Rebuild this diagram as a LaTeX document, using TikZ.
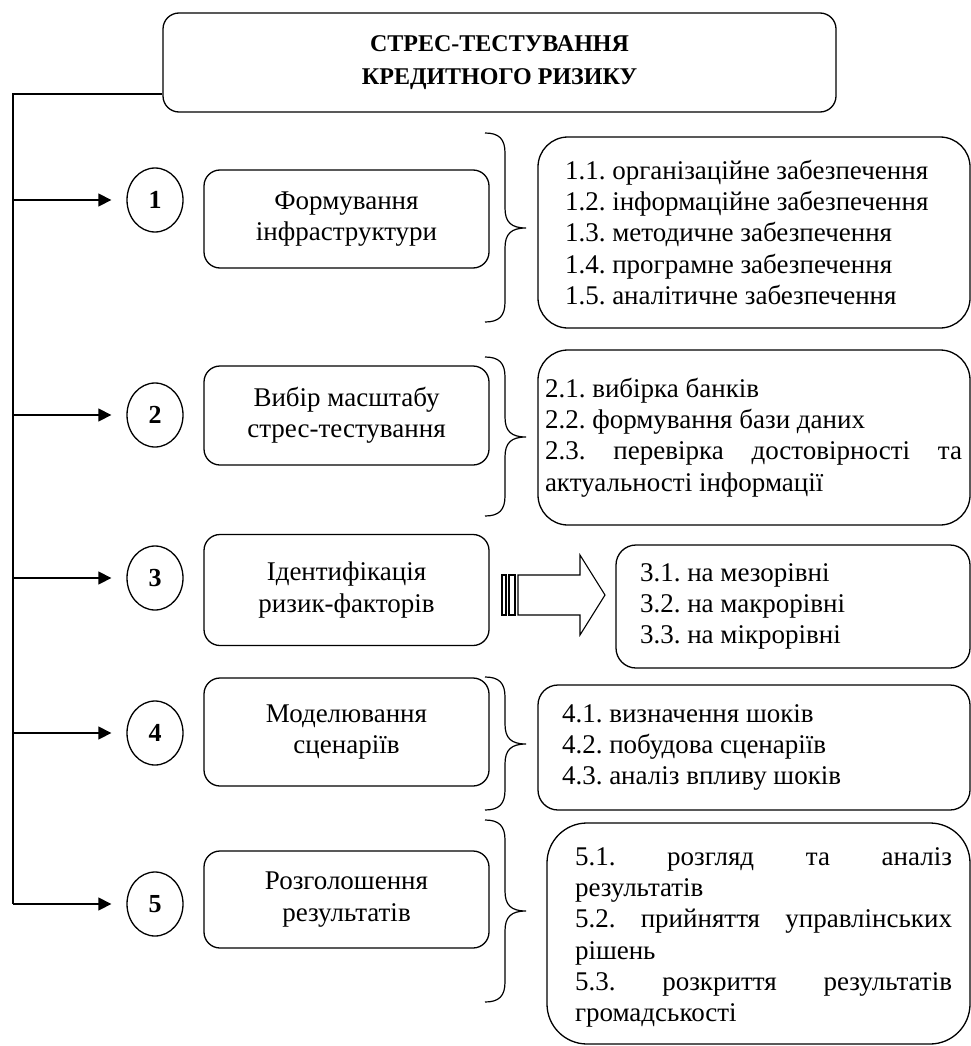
\documentclass[tikz,border=0pt]{standalone}
\usepackage{fontspec}
\setmainfont{Liberation Serif}
\frenchspacing
\usetikzlibrary{arrows.meta,shapes.geometric}
\newcommand{\drawbrace}[3]{%
  \draw[line width=1.2pt] (485,#1) .. controls (499,#1) and (505,#1+6) .. (505,#1+20)
    -- (505,#2-20) .. controls (505,#2-6) and (511,#2) .. (526,#2)
    .. controls (511,#2) and (505,#2+6) .. (505,#2+20)
    -- (505,#3-20) .. controls (505,#3-6) and (499,#3) .. (485,#3);}
\begin{document}
\begin{tikzpicture}[x=1pt,y=-1pt,line width=1.3pt,
  bodyfont/.style={font=\fontsize{27}{31.3}\selectfont},
  box/.style={draw, rounded corners=#1, inner sep=0pt},
  lbox/.style={box=16, minimum width=285, align=center, bodyfont},
  num/.style={draw, ellipse, minimum width=56, minimum height=64, inner sep=0pt,
    font=\fontsize{26}{28}\bfseries\selectfont},
  txt/.style={anchor=west, inner sep=0pt, align=left, bodyfont},
  arr/.style={-{Triangle[length=13pt,width=13pt]}}
]
\useasboundingbox (0,0) rectangle (971,1046);

% title
\node[box=16, minimum width=673, minimum height=99, align=center,
  font=\fontsize{24}{33}\bfseries\selectfont] (top) at (499.5,62.5)
  {СТРЕС-ТЕСТУВАННЯ\\КРЕДИТНОГО РИЗИКУ};

% left column boxes
\node[lbox, minimum height=98] (b1) at (346.5,219) {Формування\\інфраструктури};
\node[lbox, minimum height=99] (b2) at (346.5,415.5) {Вибір масштабу\\стрес-тестування};
\node[lbox, minimum height=111] (b3) at (346.5,590) {Ідентифікація\\ризик-факторів};
\node[lbox, minimum height=108] (b4) at (346.5,732) {Моделювання\\сценаріїв};
\node[lbox, minimum height=97] (b5) at (346.5,899.5) {Розголошення\\результатів};

% numbers
\node[num] (c1) at (155,200) {1};
\node[num] (c2) at (155,415) {2};
\node[num] (c3) at (155,578) {3};
\node[num] (c4) at (155,733) {4};
\node[num] (c5) at (155,904) {5};

% right boxes
\node[box=30, minimum width=432, minimum height=191] (r1) at (754,232.5) {};
\node[box=30, minimum width=432, minimum height=175] (r2) at (754,437.5) {};
\node[box=20, minimum width=354, minimum height=123] (r3) at (793,606.5) {};
\node[box=20, minimum width=432, minimum height=125] (r4) at (754,747.5) {};
\node[box=40, minimum width=423, minimum height=221] (r5) at (758.5,933.5) {};

\node[txt] (t1) at ([xshift=27pt]r1.west) {1.1. організаційне забезпечення\\1.2. інформаційне забезпечення\\1.3. методичне забезпечення\\1.4. програмне забезпечення\\1.5. аналітичне забезпечення};
\node[txt] (t2) at ([xshift=7pt]r2.west) {2.1. вибірка банків\\2.2. формування бази даних\\\makebox[417pt][s]{2.3. перевірка достовірності та}\\актуальності інформації};
\node[txt] (t3) at ([xshift=24pt]r3.west) {3.1. на мезорівні\\3.2. на макрорівні\\3.3. на мікрорівні};
\node[txt] (t4) at ([xshift=24pt]r4.west) {4.1. визначення шоків\\4.2. побудова сценаріїв\\4.3. аналіз впливу шоків};
\node[txt] (t5) at ([xshift=28pt,yshift=-4pt]r5.west) {\makebox[377pt][s]{5.1. розгляд та аналіз}\\результатів\\\makebox[377pt][s]{5.2. прийняття управлінських}\\рішень\\\makebox[377pt][s]{5.3. розкриття результатів}\\громадськості};

% braces
\drawbrace{133}{228}{322}
\drawbrace{357}{437}{516}
\drawbrace{677}{744}{810}
\drawbrace{820}{911}{1002}

% hollow arrow for item 3
\draw[line width=1.1pt] (502,575) rectangle (506,615);
\draw[line width=1.1pt] (509,575) rectangle (515,615);
\draw[line width=1.1pt] (518,575) -- (580,575) -- (580,555) -- (605,595)
  -- (580,635) -- (580,615) -- (518,615) -- cycle;

% connectors
\coordinate (L0) at (13,94);
\draw (top.west |- L0) -- (L0) -- (L0 |- c5);
\foreach \i in {1,...,5}{
  \draw[arr] (L0 |- c\i) -- ([xshift=-15pt]c\i.west);
}
\end{tikzpicture}
\end{document}
